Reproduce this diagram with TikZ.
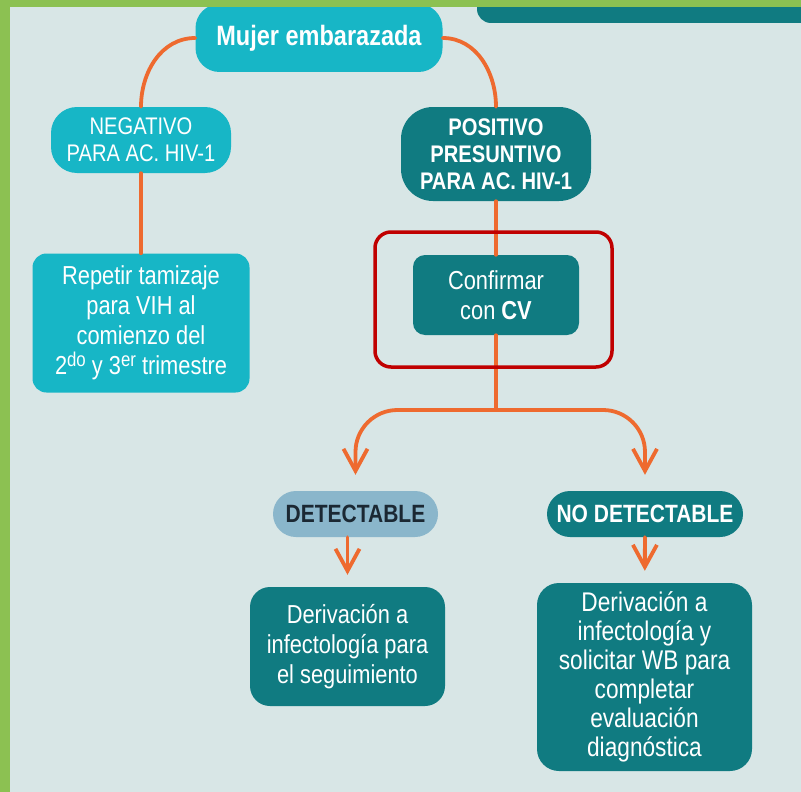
\documentclass[tikz,border=0pt]{standalone}
\usepackage{fontspec}
\setmainfont{Liberation Sans}[FakeStretch=0.84]
\usetikzlibrary{arrows.meta}
\definecolor{fondo}{HTML}{D8E6E6}
\definecolor{verde}{HTML}{8CC152}
\definecolor{celeste}{HTML}{17B6C6}
\definecolor{petroleo}{HTML}{107B81}
\definecolor{naranja}{HTML}{EE6A2F}
\definecolor{rojo}{HTML}{C00000}
\definecolor{gris}{HTML}{8AB6CB}
\definecolor{tinta}{HTML}{1B2833}
\newcommand{\sobre}[1]{\raisebox{0.3em}{\fontsize{20}{20}\selectfont #1}}
\begin{document}
\begin{tikzpicture}[x=1pt, y=-1pt, line join=round, line cap=round,
  >={Straight Barb[length=22pt,width=24pt]},
  caja/.style={text=white, align=center, inner sep=0pt, font=\fontsize{26}{30}\selectfont},
  claro/.style={caja, fill=celeste},
  oscuro/.style={caja, fill=petroleo},
  linea/.style={naranja, line width=3.8pt}]
\useasboundingbox (0,0) rectangle (801,792);
\clip (0,0) rectangle (801,792);
\fill[fondo] (0,0) rectangle (801,792);
\fill[petroleo, rounded corners=14pt] (477,-20) rectangle (830,23);

\node[claro, rounded corners=24pt, minimum width=247, minimum height=68, font=\fontsize{28}{30}\selectfont\bfseries] (mujer) at (319,38) {Mujer embarazada};
\node[claro, rounded corners=26pt, minimum width=180, minimum height=66, font=\fontsize{24}{27}\selectfont] (neg) at (141,140) {NEGATIVO\\PARA AC. HIV-1};
\node[oscuro, rounded corners=32pt, minimum width=190, minimum height=94, font=\fontsize{24}{27}\selectfont\bfseries] (pos) at (496,154) {POSITIVO\\PRESUNTIVO\\PARA AC. HIV-1};
\node[claro, rounded corners=14pt, minimum width=217, minimum height=139] (rep) at (141,323) {Repetir tamizaje\\para VIH al\\comienzo del\\2\sobre{do} y 3\sobre{er} trimestre};
\node[oscuro, rounded corners=12pt, minimum width=166, minimum height=80] (conf) at (496,295) {Confirmar\\con \textbf{CV}};
\node[caja, fill=gris, text=tinta, rounded corners=23pt, minimum width=165, minimum height=46, font=\fontsize{25}{28}\selectfont\bfseries] (det) at (355.5,514) {DETECTABLE};
\node[oscuro, rounded corners=23pt, minimum width=196, minimum height=46, font=\fontsize{25}{28}\selectfont\bfseries] (nodet) at (645,514) {NO DETECTABLE};
\node[oscuro, rounded corners=20pt, minimum width=195, minimum height=119] (der1) at (347.5,646.5) {Derivación a\\infectología para\\el seguimiento};
\node[oscuro, rounded corners=22pt, minimum width=215, minimum height=188, font=\fontsize{27}{29}\selectfont] (der2) at (644.5,677) {Derivación a\\infectología y\\solicitar WB para\\completar\\evaluación\\diagnóstica};
\coordinate (reparto) at (496,410);

\draw[linea] (mujer.west) to[out=180,in=90] (neg.north);
\draw[linea] (mujer.east) to[out=0,in=90] (pos.north);
\foreach \desde/\hasta in {neg/rep,pos/conf,conf/reparto}
\draw[linea]
(\desde)--(\hasta)
;
\foreach \hasta in {det,nodet}
\draw[linea, ->, rounded corners=42pt, shorten >=16pt]
(reparto)-|(\hasta)
;
\draw[linea, ->, shorten >=12pt] (det.south -| der1.north) -- (der1.north);
\draw[linea, ->, shorten >=12pt] (nodet) -- (der2);

\draw[rojo, line width=3.5pt, rounded corners=16pt] (375,232) rectangle (612,367);
\fill[verde] (0,0) rectangle (10,792);
\fill[verde] (0,0) rectangle (801,7);
\end{tikzpicture}
\end{document}
